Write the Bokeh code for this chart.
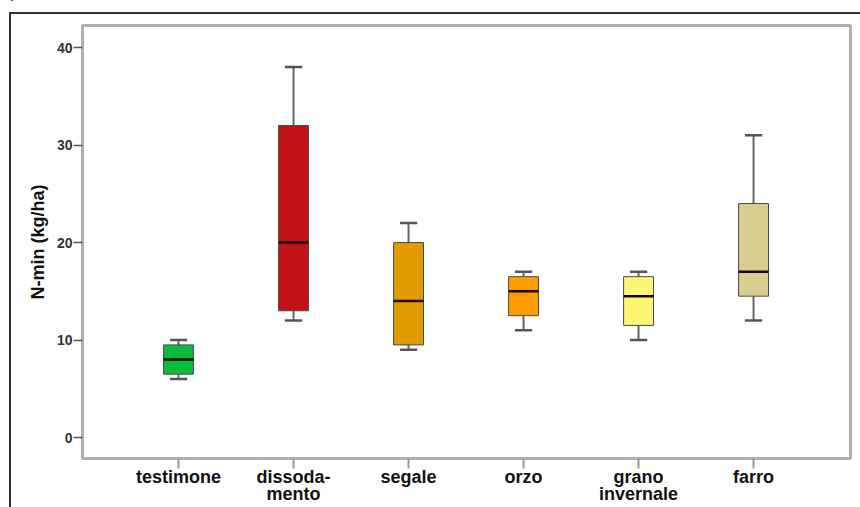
from bokeh.plotting import figure
from bokeh.models import Range1d, FixedTicker, ColumnDataSource, InlineStyleSheet
from bokeh.embed import file_html
from bokeh.resources import INLINE

# ---- data ----
categories = ["testimone", "dissoda-\nmento", "segale", "orzo", "grano\ninvernale", "farro"]
whisker_low = [6, 12, 9, 11, 10, 12]
q1 = [6.5, 13, 9.5, 12.5, 11.5, 14.5]
median = [8, 20, 14, 15, 14.5, 17]
q3 = [9.5, 32, 20, 16.5, 16.5, 24]
whisker_high = [10, 38, 22, 17, 17, 31]
colors = ["#0fb93c", "#c1121a", "#e39c00", "#ff9a00", "#fff575", "#d9cd8f"]
y_ticks = [0, 10, 20, 30, 40]

xs = list(range(len(categories)))
box_w = 0.26
cap_w = 0.15

src = ColumnDataSource(dict(
    x=xs, lo=whisker_low, q1=q1, med=median, q3=q3, hi=whisker_high, color=colors,
    bl=[x - box_w / 2 for x in xs], br=[x + box_w / 2 for x in xs],
    cl=[x - cap_w / 2 for x in xs], cr=[x + cap_w / 2 for x in xs],
))

p = figure(width=860, height=507, output_backend="svg", toolbar_location=None,
           x_range=Range1d(-0.835, 5.843), y_range=Range1d(-2.15, 42.26),
           min_border_left=82, min_border_right=10, min_border_top=25, min_border_bottom=49)
p.background_fill_color = "white"
p.border_fill_color = "white"
p.grid.visible = False
p.outline_line_color = "#b0b0b0"
p.outline_line_width = 3

# whiskers
p.segment(x0="x", y0="q3", x1="x", y1="hi", source=src, line_color="#666666", line_width=2)
p.segment(x0="x", y0="lo", x1="x", y1="q1", source=src, line_color="#666666", line_width=2)
p.segment(x0="cl", y0="hi", x1="cr", y1="hi", source=src, line_color="#555555", line_width=2.5)
p.segment(x0="cl", y0="lo", x1="cr", y1="lo", source=src, line_color="#555555", line_width=2.5)
# boxes
p.vbar(x="x", width=box_w, bottom="q1", top="q3", source=src,
       fill_color="color", line_color="#4a4a4a", line_width=1)
# medians
p.segment(x0="bl", y0="med", x1="br", y1="med", source=src, line_color="#1a0505", line_width=2.5)

# axes
xa = p.xaxis[0]
xa.ticker = FixedTicker(ticks=xs)
xa.major_label_overrides = {i: c for i, c in enumerate(categories)}
xa.axis_line_color = "#b0b0b0"
xa.axis_line_width = 3
xa.major_tick_line_color = "#999999"
xa.major_tick_line_width = 2
xa.major_tick_out = 10
xa.major_tick_in = 0
xa.minor_tick_line_color = None
xa.major_label_text_font = "Liberation Sans"
xa.major_label_text_font_style = "bold"
xa.major_label_text_font_size = "18px"
xa.major_label_text_color = "#111111"
xa.major_label_text_line_height = 0.85
xa.major_label_standoff = -2

ya = p.yaxis[0]
ya.ticker = FixedTicker(ticks=y_ticks)
ya.axis_line_color = "#b0b0b0"
ya.axis_line_width = 3
ya.major_tick_line_color = "#555555"
ya.major_tick_line_width = 1.5
ya.major_tick_out = 9
ya.major_tick_in = 0
ya.minor_tick_line_color = None
ya.major_label_text_font = "Liberation Sans"
ya.major_label_text_font_style = "bold"
ya.major_label_text_font_size = "14px"
ya.major_label_text_color = "#333333"
ya.major_label_standoff = 1
ya.axis_label = "N-min (kg/ha)"
ya.axis_label_text_font = "Liberation Sans"
ya.axis_label_text_font_style = "bold"
ya.axis_label_text_font_size = "18px"
ya.axis_label_text_color = "#111111"
ya.axis_label_standoff = 6

# outer dark frame edges (left and top) and the small mark at the top-left corner
p.stylesheets = [InlineStyleSheet(css="""
:host::after {
  content: ""; position: absolute; left: 9px; top: 12px; width: 849px; height: 493px;
  border-left: 2px solid #333333; border-top: 2px solid #333333; pointer-events: none;
}
:host::before {
  content: ""; position: absolute; left: 11px; top: 0px; width: 2px; height: 5px;
  background: #222222; pointer-events: none;
}
""")]

open("out.html", "w").write(file_html(p, INLINE))
